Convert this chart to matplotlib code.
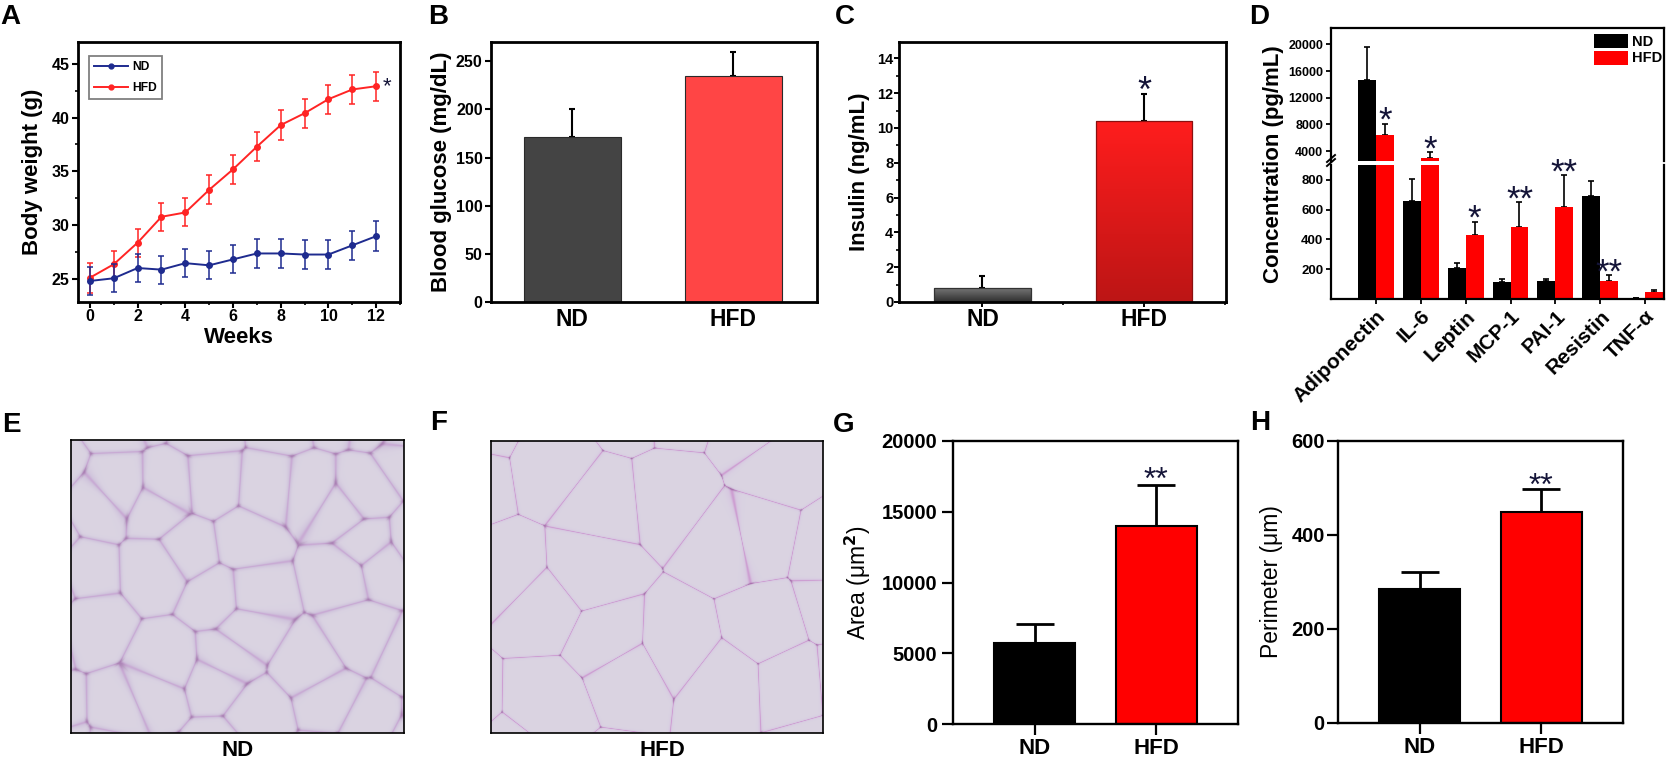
import numpy as np
import matplotlib
matplotlib.use('Agg')
import matplotlib.pyplot as plt
from matplotlib.colors import LinearSegmentedColormap
from matplotlib.ticker import MultipleLocator
from matplotlib.lines import Line2D
from matplotlib.patches import Patch

plt.rcParams['font.family'] = ['Liberation Sans', 'DejaVu Sans']
plt.rcParams['font.weight'] = 'bold'
plt.rcParams['axes.labelweight'] = 'bold'

# ---------------- data ----------------
weeks = [0, 1, 2, 3, 4, 5, 6, 7, 8, 9, 10, 11, 12]
nd_weight = [24.85, 25.1, 26.05, 25.9, 26.5, 26.3, 26.85, 27.4, 27.4, 27.3, 27.3, 28.15, 29.0]
nd_weight_err = [1.3, 1.3, 1.3, 1.3, 1.3, 1.3, 1.3, 1.35, 1.35, 1.35, 1.35, 1.35, 1.4]
hfd_weight = [25.15, 26.4, 28.4, 30.8, 31.2, 33.3, 35.2, 37.3, 39.3, 40.4, 41.7, 42.6, 42.9]
hfd_weight_err = [1.4, 1.25, 1.3, 1.3, 1.3, 1.35, 1.35, 1.35, 1.4, 1.35, 1.35, 1.35, 1.35]

groups = ['ND', 'HFD']
glucose_mean = [171.5, 235.0]
glucose_err = [28.5, 25.0]
insulin_mean = [0.83, 10.38]
insulin_err = [0.65, 1.55]
insulin_sig = ['', '*']

cytokines = ['Adiponectin', 'IL-6', 'Leptin', 'MCP-1', 'PAI-1', 'Resistin', 'TNF-α']
nd_cyto = [14700, 659, 209, 115, 119, 690, 5]
nd_cyto_err = [4900, 146, 34, 20, 16, 102, 2]
hfd_cyto = [6400, 2900, 427, 486, 620, 119, 47]
hfd_cyto_err = [1700, 900, 92, 166, 212, 41, 16]
cyto_sig = ['*', '*', '*', '**', '**', '**', '']

area_mean = [5700, 14000]
area_err = [1400, 2900]
area_sig = ['', '**']
perim_mean = [286, 449]
perim_err = [35, 48]
perim_sig = ['', '**']

# ---------------- figure ----------------
W, H = 1672, 765
fig = plt.figure(figsize=(W / 100, H / 100), dpi=100)
STAR = '#141438'


def px_axes(l, t, w, h):
    return fig.add_axes([l / W, 1 - (t + h) / H, w / W, h / H])


def spines(ax, lw):
    for s in ax.spines.values():
        s.set_linewidth(lw)


def star(ax, x, ytop, text, fs, gap_px):
    if not text:
        return
    ax.annotate(text, xy=(x, ytop), xytext=(0, gap_px * 0.72 - 0.585 * fs),
                textcoords='offset points', ha='center', va='baseline',
                fontsize=fs, fontweight='normal', color=STAR,
                annotation_clip=False, zorder=6)


def letter(x, ybase, s):
    fig.text(x / W, 1 - ybase / H, s, fontsize=20, fontweight='bold',
             ha='left', va='baseline')


# ---------------- A ----------------
axA = px_axes(78, 42, 322, 260)
c_nd, c_hfd = '#1e2b8f', '#ff2424'
axA.errorbar(weeks, hfd_weight, yerr=hfd_weight_err, color=c_hfd, marker='o', ms=4,
             lw=1.4, elinewidth=1.1, capsize=2.5, capthick=1.1, zorder=3)
axA.errorbar(weeks, nd_weight, yerr=nd_weight_err, color=c_nd, marker='o', ms=4,
             lw=1.4, elinewidth=1.1, capsize=2.5, capthick=1.1, zorder=4)
axA.set_xlim(-0.5, 13)
axA.set_ylim(22.9, 47)
axA.xaxis.set_major_locator(MultipleLocator(2))
axA.xaxis.set_minor_locator(MultipleLocator(1))
axA.yaxis.set_major_locator(MultipleLocator(5))
axA.yaxis.set_minor_locator(MultipleLocator(2.5))
axA.tick_params(which='major', direction='out', length=4, width=1.5, labelsize=11.5, pad=2)
axA.tick_params(which='minor', direction='out', length=2.5, width=1.2)
axA.tick_params(axis='x', which='major', pad=1)
spines(axA, 2)
axA.set_ylabel('Body weight (g)', fontsize=16)
axA.yaxis.set_label_coords(-0.109, 0.5)
axA.set_xlabel('Weeks', fontsize=16, va='top')
axA.xaxis.set_label_coords(0.5, -0.096)
leg_handles = [Line2D([], [], color=c_nd, marker='o', ms=3.5, lw=1.4),
               Line2D([], [], color=c_hfd, marker='o', ms=3.5, lw=1.4)]
legA = axA.legend(leg_handles, groups, loc='upper left', bbox_to_anchor=(0.034, 0.946),
                  borderaxespad=0, fontsize=8.7, handlelength=2.8, handletextpad=0.3,
                  labelspacing=0.7, borderpad=0.45, fancybox=False, framealpha=1)
legA.get_frame().set_edgecolor('#808080')
legA.get_frame().set_linewidth(1.3)
axA.text(12.45, hfd_weight[-1], '*', fontsize=16, fontweight='normal', color=STAR,
         ha='center', va='center')
letter(0, 24, 'A')

# ---------------- B ----------------
pos = np.arange(len(groups))
axB = px_axes(491, 42, 326, 260)
axB.bar(pos, glucose_mean, width=0.6, color=['#444444', '#ff4545'], edgecolor='#2a2a2a',
        lw=0.8, zorder=2)
axB.errorbar(pos, glucose_mean, yerr=[[0] * len(pos), glucose_err], fmt='none',
             ecolor='black', elinewidth=1.5, capsize=2.5, capthick=1.5, zorder=1)
axB.set_xlim(-0.506, 1.52)
axB.set_ylim(0, 270)
axB.yaxis.set_major_locator(MultipleLocator(50))
axB.set_xticks(pos)
axB.set_xticklabels(groups, fontsize=16.5)
axB.tick_params(axis='x', length=0, pad=4.3)
axB.tick_params(axis='y', direction='out', length=4.5, width=1.5, labelsize=11.5, pad=1.5)
spines(axB, 2)
axB.set_ylabel('Blood glucose (mg/dL)', fontsize=16)
axB.yaxis.set_label_coords(-0.12, 0.5)
letter(428, 24, 'B')

# ---------------- C ----------------
axC = px_axes(899, 42, 327, 260)
barsC = axC.bar(pos, insulin_mean, width=0.6, color=['#505050', '#e01818'], zorder=2)
grad = np.linspace(0, 1, 256).reshape(-1, 1)
cmaps = [LinearSegmentedColormap.from_list('gnd', ['#2e2e2e', '#7a7a7a']),
         LinearSegmentedColormap.from_list('ghfd', ['#bc1515', '#ff1d1d'])]
for b, cm in zip(barsC, cmaps):
    x0, y0, bw, bh = b.get_x(), b.get_y(), b.get_width(), b.get_height()
    im = axC.imshow(grad, extent=(x0, x0 + bw, y0, y0 + bh), origin='lower', cmap=cm,
                    aspect='auto', zorder=2.2)
    im.set_clip_path(b)
axC.bar(pos, insulin_mean, width=0.6, fill=False, edgecolor=['#333333', '#8a1010'],
        lw=0.9, zorder=2.4)
axC.errorbar(pos, insulin_mean, yerr=[[0] * len(pos), insulin_err], fmt='none',
             ecolor='black', elinewidth=1.5, capsize=2.5, capthick=1.5, zorder=1)
axC.set_xlim(-0.517, 1.508)
axC.set_ylim(0, 14.94)
axC.yaxis.set_major_locator(MultipleLocator(2))
axC.yaxis.set_minor_locator(MultipleLocator(1))
axC.set_xticks(pos)
axC.set_xticks([0.5, 1.5], minor=True)
axC.set_xticklabels(groups, fontsize=16.5)
axC.tick_params(which='major', direction='out', length=3.5, width=1.4, pad=1)
axC.tick_params(which='minor', direction='out', length=2.5, width=1.2)
axC.tick_params(axis='y', labelsize=10.5, pad=0.5)
spines(axC, 2)
axC.set_ylabel('Insulin (ng/mL)', fontsize=16)
axC.yaxis.set_label_coords(-0.089, 0.5)
for i in range(len(pos)):
    star(axC, pos[i], insulin_mean[i] + insulin_err[i], insulin_sig[i], 26, 14)
letter(835, 24, 'C')

# ---------------- D (broken axis) ----------------
dl, dw = 1331, 333
up_t, up_h = 27.7, 133.3
lo_t, lo_h = 165, 134
axDu = px_axes(dl, up_t, dw, up_h)
axDl = px_axes(dl, lo_t, dw, lo_h)
cpos = np.arange(len(cytokines))
for ax in (axDu, axDl):
    ax.bar(cpos - 0.2, nd_cyto, width=0.4, color='black', zorder=2)
    ax.bar(cpos + 0.2, hfd_cyto, width=0.4, color='#ff0000', zorder=2)
    ax.errorbar(cpos - 0.2, nd_cyto, yerr=[[0] * len(cpos), nd_cyto_err], fmt='none',
                ecolor='black', elinewidth=1.2, capsize=2.5, capthick=1.2, zorder=1)
    ax.errorbar(cpos + 0.2, hfd_cyto, yerr=[[0] * len(cpos), hfd_cyto_err], fmt='none',
                ecolor='black', elinewidth=1.2, capsize=2.5, capthick=1.2, zorder=1)
    ax.set_xlim(-1, 6.42)
    spines(ax, 1.6)
axDu.set_ylim(2500, 22500)
axDl.set_ylim(0, 900)
axDu.spines['bottom'].set_visible(False)
axDl.spines['top'].set_visible(False)
axDu.set_xticks([])
axDu.set_yticks([4000, 8000, 12000, 16000, 20000])
axDl.set_yticks([200, 400, 600, 800])
axDu.tick_params(axis='y', direction='out', length=3.5, width=1.3, labelsize=9, pad=2)
axDl.tick_params(axis='y', direction='out', length=3.5, width=1.3, labelsize=9.5, pad=2)
axDl.set_xticks(cpos)
axDl.set_xticklabels(cytokines, fontsize=15, rotation=45, ha='right', va='top',
                     rotation_mode='anchor')
axDl.tick_params(axis='x', direction='out', length=3.5, width=1.3, pad=2)
# break marks on the left spine
tr = fig.transFigure
bx = dl / W
for k in (0, 4):
    yb = 1 - (lo_t + 1 - k) / H
    fig.add_artist(Line2D([bx - 4 / W, bx + 4 / W], [yb, yb + 7 / H], color='black',
                          lw=1.4, transform=tr))
for i in range(len(cpos)):
    top_hfd = hfd_cyto[i] + hfd_cyto_err[i]
    ax = axDu if top_hfd > 900 else axDl
    star(ax, cpos[i] + 0.2, top_hfd, cyto_sig[i], 25, 13)
legD = axDu.legend([Patch(facecolor='black'), Patch(facecolor='#ff0000')], groups,
                   loc='upper right', bbox_to_anchor=(1.0, 0.965), frameon=False,
                   fontsize=10.5, handlelength=2.3, handleheight=1.1, handletextpad=0.3,
                   labelspacing=0.12, borderaxespad=0, borderpad=0.1)
fig.text(1274 / W, 1 - 164.5 / H, 'Concentration (pg/mL)', rotation=90, ha='center',
         va='center', fontsize=16, fontweight='bold')
letter(1249, 24, 'D')


# ---------------- E / F (histology-like texture) ----------------
def tissue(w, h, nx, ny, phase, wall, band_rgb, line_rgb, junc_w):
    ys, xs = np.mgrid[0:h, 0:w].astype(float)
    d1 = np.full((h, w), 1e9)
    d2 = np.full((h, w), 1e9)
    d3 = np.full((h, w), 1e9)
    for i in range(-1, nx + 1):
        for j in range(-1, ny + 1):
            a = np.sin(i * 12.9898 + j * 78.233 + phase) * 43758.5453
            b = np.sin(i * 39.3468 + j * 11.135 + phase) * 24634.6345
            jx = a - np.floor(a) - 0.5
            jy = b - np.floor(b) - 0.5
            cx = (i + 0.5 + 0.8 * jx) * w / nx
            cy = (j + 0.5 + 0.8 * jy) * h / ny
            dd = np.hypot(xs - cx, ys - cy)
            m1 = dd < d1
            m2 = (~m1) & (dd < d2)
            m3 = (~m1) & (~m2) & (dd < d3)
            d3 = np.where(m1, d2, np.where(m2, d2, np.where(m3, dd, d3)))
            d2 = np.where(m1, d1, np.where(m2, dd, d2))
            d1 = np.where(m1, dd, d1)
    e = d2 - d1
    base = np.array([0.855, 0.828, 0.885])
    band = np.exp(-(e / wall) ** 2)[..., None]
    core = np.exp(-(e / (wall * 0.3)) ** 2)[..., None]
    junc = np.exp(-((d3 - d1) / (wall * 0.7)) ** 2)[..., None]
    img = base * (1 - band) + np.array(band_rgb) * band
    img = img * (1 - 0.55 * core) + np.array(line_rgb) * 0.55 * core
    img = img * (1 - junc_w * junc) + np.array([0.40, 0.12, 0.42]) * junc_w * junc
    return np.clip(img, 0, 1)


axE = px_axes(71, 440, 333, 293)
axE.imshow(tissue(333, 293, 6, 5, 1.3, 5.0, (0.81, 0.76, 0.86), (0.77, 0.60, 0.81), 0.3),
           aspect='auto', interpolation='bilinear')
axF = px_axes(491, 441, 332, 292)
axF.imshow(tissue(332, 292, 4, 4, 4.7, 2.8, (0.84, 0.78, 0.88), (0.78, 0.50, 0.78), 0.35),
           aspect='auto', interpolation='bilinear')
for ax in (axE, axF):
    ax.set_xticks([])
    ax.set_yticks([])
    spines(ax, 1.2)
fig.text(238 / W, 1 - 750 / H, 'ND', ha='center', va='center', fontsize=16)
fig.text(662 / W, 1 - 750 / H, 'HFD', ha='center', va='center', fontsize=16)
letter(2, 432, 'E')
letter(430, 430, 'F')


# ---------------- G / H ----------------
def bar_panel(ax, means, errs, sigs, ymax, step, ylabel, lab_x, ypad, star_gap):
    ax.bar(pos, means, width=0.66, color=['black', '#ff0000'], edgecolor='black',
           lw=1.5, zorder=2)
    ax.errorbar(pos, means, yerr=[[0] * len(pos), errs], fmt='none', ecolor='black',
                elinewidth=2, capsize=14, capthick=2, zorder=1)
    ax.set_xlim(-0.67, 1.67)
    ax.set_ylim(0, ymax)
    ax.yaxis.set_major_locator(MultipleLocator(step))
    ax.set_xticks(pos)
    ax.set_xticklabels(groups, fontsize=16)
    ax.tick_params(direction='out', length=8, width=1.6)
    ax.tick_params(axis='x', pad=2)
    ax.tick_params(axis='y', labelsize=14.5, pad=ypad)
    spines(ax, 1.7)
    ax.set_ylabel(ylabel, fontsize=16.5, fontweight='normal')
    ax.yaxis.set_label_coords(lab_x, 0.5)
    for i in range(len(pos)):
        star(ax, pos[i], means[i] + errs[i], sigs[i], 23, star_gap)


axG = px_axes(953, 441, 285, 283)
bar_panel(axG, area_mean, area_err, area_sig, 20000, 5000, 'Area (μm$^2$)', -0.281, 3.5, 15)
axH = px_axes(1338, 441, 285, 282)
bar_panel(axH, perim_mean, perim_err, perim_sig, 600, 200, 'Perimeter (μm)', -0.193, 1.5, 13)
letter(833, 432, 'G')
letter(1250, 430, 'H')

fig.savefig('out.png', dpi=100)
